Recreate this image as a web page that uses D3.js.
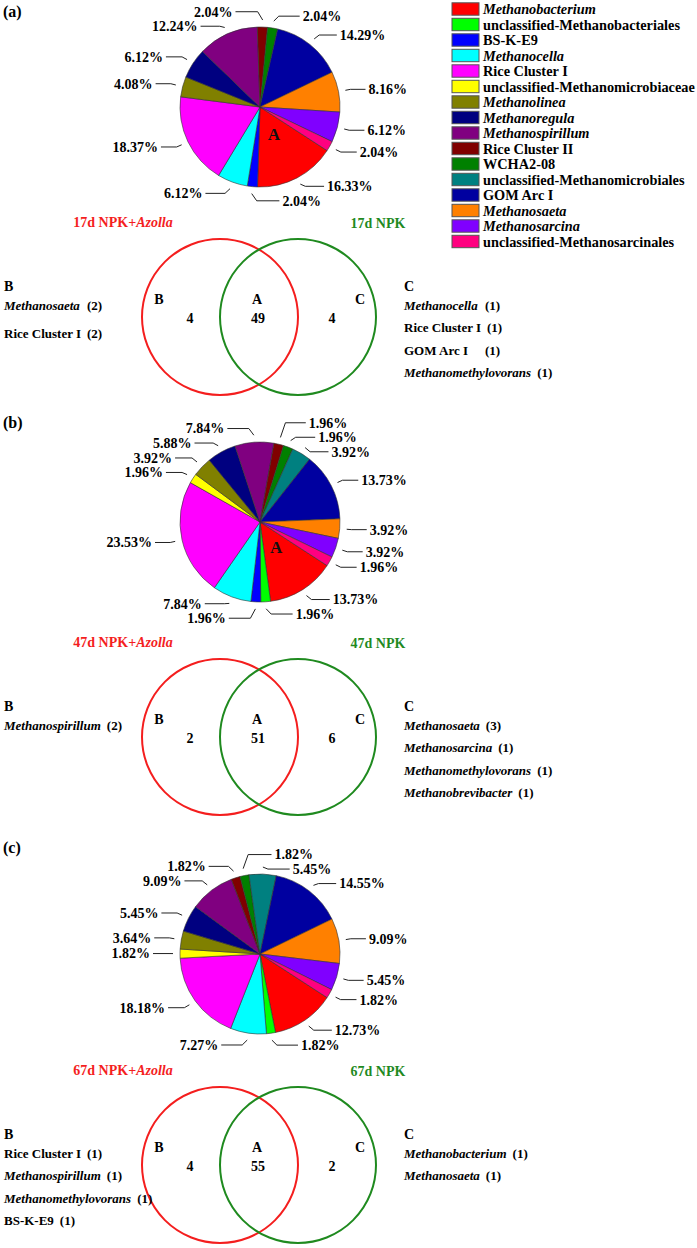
<!DOCTYPE html>
<html>
<head>
<meta charset="utf-8">
<script src="https://cdn.jsdelivr.net/npm/d3@7"></script>
<style>
  html, body { margin: 0; padding: 0; background: #fff; }
  svg { display: block; }
  text { font-family: "Liberation Serif", "Times New Roman", serif; font-weight: bold; }
</style>
</head>
<body>
<svg id="chart" width="697" height="1248"></svg>
<script>
// ---------------- DATA ----------------
const categories = [
  "Methanobacterium", "unclassified-Methanobacteriales", "BS-K-E9", "Methanocella",
  "Rice Cluster I", "unclassified-Methanomicrobiaceae", "Methanolinea", "Methanoregula",
  "Methanospirillum", "Rice Cluster II", "WCHA2-08", "unclassified-Methanomicrobiales",
  "GOM Arc I", "Methanosaeta", "Methanosarcina", "unclassified-Methanosarcinales"
];
// percentage of OTUs in the shared set A, one value per category
const pct17d = [16.33, 0, 2.04, 6.12, 18.37, 0, 4.08, 6.12, 12.24, 2.04, 2.04, 0, 14.29, 8.16, 6.12, 2.04];
const pct47d = [13.73, 1.96, 1.96, 7.84, 23.53, 1.96, 3.92, 5.88, 7.84, 1.96, 1.96, 3.92, 13.73, 3.92, 3.92, 1.96];
const pct67d = [12.73, 1.82, 0, 7.27, 18.18, 1.82, 3.64, 5.45, 9.09, 1.82, 1.82, 5.45, 14.55, 9.09, 5.45, 1.82];

// Venn counts: [only NPK+Azolla (B), shared (A), only NPK (C)]
const venn17d = [4, 49, 4];
const venn47d = [2, 51, 6];
const venn67d = [4, 55, 2];

const days = ["17d", "47d", "67d"];

// unique genera lists [name, count]
const onlyAzolla17d = [["Methanosaeta", 2], ["Rice Cluster I", 2]];
const onlyNpk17d = [["Methanocella", 1], ["Rice Cluster I", 1], ["GOM Arc I", 1], ["Methanomethylovorans", 1]];
const onlyAzolla47d = [["Methanospirillum", 2]];
const onlyNpk47d = [["Methanosaeta", 3], ["Methanosarcina", 1], ["Methanomethylovorans", 1], ["Methanobrevibacter", 1]];
const onlyAzolla67d = [["Rice Cluster I", 1], ["Methanospirillum", 1], ["Methanomethylovorans", 1], ["BS-K-E9", 1]];
const onlyNpk67d = [["Methanobacterium", 1], ["Methanosaeta", 1]];

// ---------------- STYLE / LAYOUT ----------------
const palette = [
  "#FF0000", "#00FF00", "#0000FF", "#00FFFF",
  "#FF00FF", "#FFFF00", "#808000", "#000080",
  "#800080", "#800000", "#008000", "#008080",
  "#0000A0", "#FF8000", "#8000FF", "#FF0080"
];
const RED = "#F41E1E", GREEN = "#1F8A1F";
const isItalic = name => name.startsWith("Methano");

const panels = [
  { tag: "(a)", tagY: 17, cy: 107, pct: pct17d, showA: true, topSplit: 5, bottomSplit: 190, oy: 0,
    venn: venn17d, listB: onlyAzolla17d, listC: onlyNpk17d, day: days[0], tabB: 87, tabC: 485, gapB: 28 },
  { tag: "(b)", tagY: 428, cy: 522, pct: pct47d, showA: true, topSplit: 5, bottomSplit: 180, oy: 420,
    venn: venn47d, listB: onlyAzolla47d, listC: onlyNpk47d, day: days[1], tabB: 0, tabC: 0, gapB: 22.3 },
  { tag: "(c)", tagY: 853, cy: 954, pct: pct67d, showA: false, topSplit: -14, bottomSplit: 180, oy: 848,
    venn: venn67d, listB: onlyAzolla67d, listC: onlyNpk67d, day: days[2], tabB: 0, tabC: 0, gapB: 22.3 }
];

const svg = d3.select("#chart");
svg.append("rect").attr("width", 697).attr("height", 1248).attr("fill", "#fff");

const color = d3.scaleOrdinal().domain(categories).range(palette);
const cx = 260, R = 80;
const pie = d3.pie().sort(null).value(d => d.v)
  .startAngle(123 * Math.PI / 180).endAngle(123 * Math.PI / 180 + 2 * Math.PI);
const arc = d3.arc().innerRadius(0).outerRadius(R);

// labels already ordered top -> bottom; push apart keeping order
function resolve(labels, gap) {
  for (let it = 0; it < 300; it++) {
    let moved = false;
    for (let i = 0; i < labels.length - 1; i++) {
      const d = labels[i + 1].y - labels[i].y;
      if (d < gap - 0.01) {
        const m = (gap - d) / 2;
        labels[i].y -= m; labels[i + 1].y += m; moved = true;
      }
    }
    if (!moved) break;
  }
}

function addName(sel, name) {
  sel.append("tspan").attr("font-style", isItalic(name) ? "italic" : "normal").text(name);
}

panels.forEach(p => {
  // panel tag
  svg.append("text").attr("x", 3).attr("y", p.tagY).attr("font-size", 16).text(p.tag);

  // pie
  const data = categories.map((c, i) => ({ c, v: p.pct[i] }));
  const arcs = pie(data);
  const g = svg.append("g").attr("transform", `translate(${cx},${p.cy})`);
  g.selectAll("path").data(arcs.filter(a => a.data.v > 0)).join("path")
    .attr("d", arc).attr("fill", d => color(d.data.c))
    .attr("stroke", "#333").attr("stroke-width", 0.6);

  if (p.showA) {
    const a0 = arcs[0];
    const m = (a0.startAngle + a0.endAngle) / 2;
    g.append("text").attr("x", 30 * Math.sin(m)).attr("y", -30 * Math.cos(m))
      .attr("dy", "0.35em").attr("text-anchor", "middle").attr("font-size", 17)
      .attr("fill", "#111").text("A");
  }

  // labels
  const labs = arcs.filter(a => a.data.v > 0).map(a => {
    const t = (a.startAngle + a.endAngle) / 2;
    const deg = t * 180 / Math.PI;
    const rel = (((deg - p.topSplit) % 360) + 360) % 360;
    const s = rel < (p.bottomSplit - p.topSplit) ? 1 : -1;
    return { a, t, s, rel, y: p.cy - (R + 12) * Math.cos(t), text: a.data.v.toFixed(2) + "%" };
  });
  const right = labs.filter(l => l.s > 0).sort((a, b) => a.rel - b.rel);
  const left = labs.filter(l => l.s < 0).sort((a, b) => b.rel - a.rel);
  resolve(right, 14.5); resolve(left, 14.5);
  labs.forEach(l => {
    const px = cx + (R + 7) * Math.sin(l.t), py = p.cy - (R + 7) * Math.cos(l.t);
    const tx = cx + R * Math.sin(l.t) + l.s * 30;
    const bx = px + l.s * 5;
    svg.append("polyline")
      .attr("points", `${px},${py} ${bx},${l.y} ${tx - l.s * 3},${l.y}`)
      .attr("fill", "none").attr("stroke", "#222").attr("stroke-width", 1);
    svg.append("text").attr("x", tx).attr("y", l.y).attr("dy", "0.35em")
      .attr("text-anchor", l.s > 0 ? "start" : "end").attr("font-size", 14)
      .text(l.text);
  });

  // Venn
  const oy = p.oy;
  const vg = svg.append("g");
  vg.append("circle").attr("cx", 220).attr("cy", 317 + oy).attr("r", 78)
    .attr("fill", "none").attr("stroke", RED).attr("stroke-width", 2);
  vg.append("circle").attr("cx", 298).attr("cy", 317 + oy).attr("r", 78)
    .attr("fill", "none").attr("stroke", GREEN).attr("stroke-width", 2);

  const t1 = vg.append("text").attr("x", 123).attr("y", 227 + oy).attr("text-anchor", "middle")
    .attr("font-size", 14).attr("fill", RED);
  t1.append("tspan").text(p.day + " NPK+");
  t1.append("tspan").attr("font-style", "italic").text("Azolla");
  vg.append("text").attr("x", 378).attr("y", 228 + oy).attr("text-anchor", "middle")
    .attr("font-size", 14).attr("fill", GREEN).text(p.day + " NPK");

  const inner = [
    { k: "B", kx: 159, n: p.venn[0], nx: 190 },
    { k: "A", kx: 257, n: p.venn[1], nx: 258 },
    { k: "C", kx: 360, n: p.venn[2], nx: 332 }
  ];
  inner.forEach(d => {
    vg.append("text").attr("x", d.kx).attr("y", 304 + oy).attr("text-anchor", "middle")
      .attr("font-size", 14).text(d.k);
    vg.append("text").attr("x", d.nx).attr("y", 323 + oy).attr("text-anchor", "middle")
      .attr("font-size", 14).text(d.n);
  });

  [[p.listB, 4, "B", p.tabB, p.gapB], [p.listC, 404, "C", p.tabC, 22.3]].forEach(([list, x, hdr, tab, gap]) => {
    vg.append("text").attr("x", x).attr("y", 291 + oy).attr("font-size", 14).text(hdr);
    list.forEach((it, i) => {
      const y = 310 + oy + i * gap;
      const t = vg.append("text").attr("x", x).attr("y", y).attr("font-size", 13);
      addName(t, it[0]);
      const w = t.node().getComputedTextLength();
      const cxpos = Math.max(x + w + 6, tab || 0);
      vg.append("text").attr("x", cxpos).attr("y", y).attr("font-size", 13).text("(" + it[1] + ")");
    });
  });
});

// legend
const ly = d3.scalePoint().domain(categories).range([9, 241.5]);
const lg = svg.append("g");
categories.forEach(c => {
  lg.append("rect").attr("x", 452).attr("y", ly(c) - 6.2).attr("width", 27).attr("height", 12.4)
    .attr("fill", color(c)).attr("stroke", "#555").attr("stroke-width", 1);
  const t = lg.append("text").attr("x", 483).attr("y", ly(c)).attr("dy", "0.35em").attr("font-size", 14.3);
  addName(t, c);
});
</script>
</body>
</html>
